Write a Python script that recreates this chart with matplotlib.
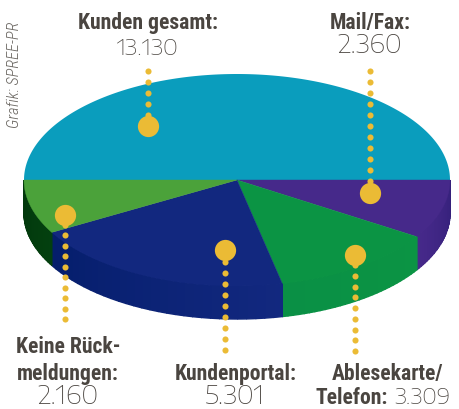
import numpy as np
import matplotlib
matplotlib.use("Agg")
import matplotlib.pyplot as plt
from matplotlib.colors import to_rgb

# data
total_label = "Kunden gesamt:"
total_value = 13130
categories = ["Mail/Fax", "Ablesekarte/Telefon", "Kundenportal", "Keine Rückmeldungen"]
values = [2360, 3309, 5301, 2160]
value_labels = ["2.360", "3.309", "5.301", "2.160"]

# style
top_colors = ["#46298A", "#0B9444", "#12287F", "#4BA23A"]
side_start = ["#34207A", "#0B9444", "#12287F", "#03400F"]
side_end = ["#46298A", "#0A9045", "#051E6C", "#02380C"]
teal = "#0A9DBD"
gold = "#EBBB35"
dark = "#4A4540"
narrow = ["Roboto Condensed", "DejaVu Sans"]
light = ["Encode Sans Expanded", "DejaVu Sans"]

cx, cy, rx, ry, depth = 237, 180, 213, 106, 33

fig = plt.figure(figsize=(4.6, 4.09), dpi=100)
ax = fig.add_axes([0, 0, 1, 1])
ax.set_xlim(0, 460)
ax.set_ylim(409, 0)
ax.axis("off")


def arc(a0, a1, dy=0.0, n=80):
    t = np.radians(np.linspace(a0, a1, n))
    return cx + rx * np.cos(t), cy + dy + ry * np.sin(t)


# cumulative angles over the front half (the total fills the back half)
edges = np.concatenate([[0], np.cumsum(values)]) / total_value * 180

# side walls, drawn as strips so the shade can drift along the wall
for a0, a1, c0, c1 in zip(edges[:-1], edges[1:], side_start, side_end):
    steps = np.linspace(a0, a1, 31)
    for i, (s0, s1) in enumerate(zip(steps[:-1], steps[1:])):
        f = i / 29
        col = (1 - f) * np.array(to_rgb(c0)) + f * np.array(to_rgb(c1))
        x0, y0 = arc(s0, s1, n=6)
        x1, y1 = arc(s1, s0, depth, n=6)
        ax.fill(np.r_[x0, x1], np.r_[y0, y1], color=col, lw=1.0, zorder=2)

# top face
x, y = arc(180, 360, n=200)
ax.fill(x, y, color=teal, lw=0, zorder=3)
for a0, a1, c in zip(edges[:-1], edges[1:], top_colors):
    x, y = arc(a0, a1)
    ax.fill(np.r_[cx, x], np.r_[cy, y], color=c, lw=0.3, zorder=3)

# callouts: x, first dot y, last dot y, bullet y
callouts = [
    (148, 71, 115, 126),
    (370, 71, 181, 193),
    (65, 225, 319, 215),
    (225, 262, 350, 250),
    (355.5, 265, 351, 255),
]
for xp, y0, y1, yb in callouts:
    n = int(round(abs(y1 - y0) / 10.8)) + 1
    ys = np.linspace(y0, y1, n)
    ax.plot([xp] * n, ys, "o", ms=4.4, mfc=gold, mec="none", zorder=5)
    ax.plot([xp], [yb], "o", ms=15.3, mfc=gold, mec="none", zorder=6)


def bold(x, y, s, ha="center"):
    ax.text(x, y, s, ha=ha, va="center", family=narrow, weight="bold",
            fontsize=15.6, color=dark, zorder=7)


def num(x, y, s, ha="center", size=16):
    return ax.text(x, y, s, ha=ha, va="center", family=light, weight="light",
                   fontsize=size, color=dark, zorder=7)


bold(148, 23, total_label)
num(148, 49, f"{total_value:,}".replace(",", "."))
bold(370, 23, "Mail/Fax:")
num(369.5, 46, value_labels[0], size=18)
bold(68, 347, "Keine Rück-")
bold(68, 374, "meldungen:")
num(68, 397, value_labels[3], size=18)
bold(236, 374, "Kundenportal:")
num(235, 397, value_labels[2], size=18)
bold(388, 374, "Ablesekarte/")
bold(388, 398, "Telefon:", ha="right")
num(394, 398, value_labels[1], ha="left", size=15.5)

ax.text(15, 75, "Grafik: SPREE-PR", rotation=90, ha="center", va="center",
        family=narrow, style="italic", weight="light", fontsize=11.8,
        color="#6A6661", zorder=7)

fig.savefig("out.png", dpi=100)
